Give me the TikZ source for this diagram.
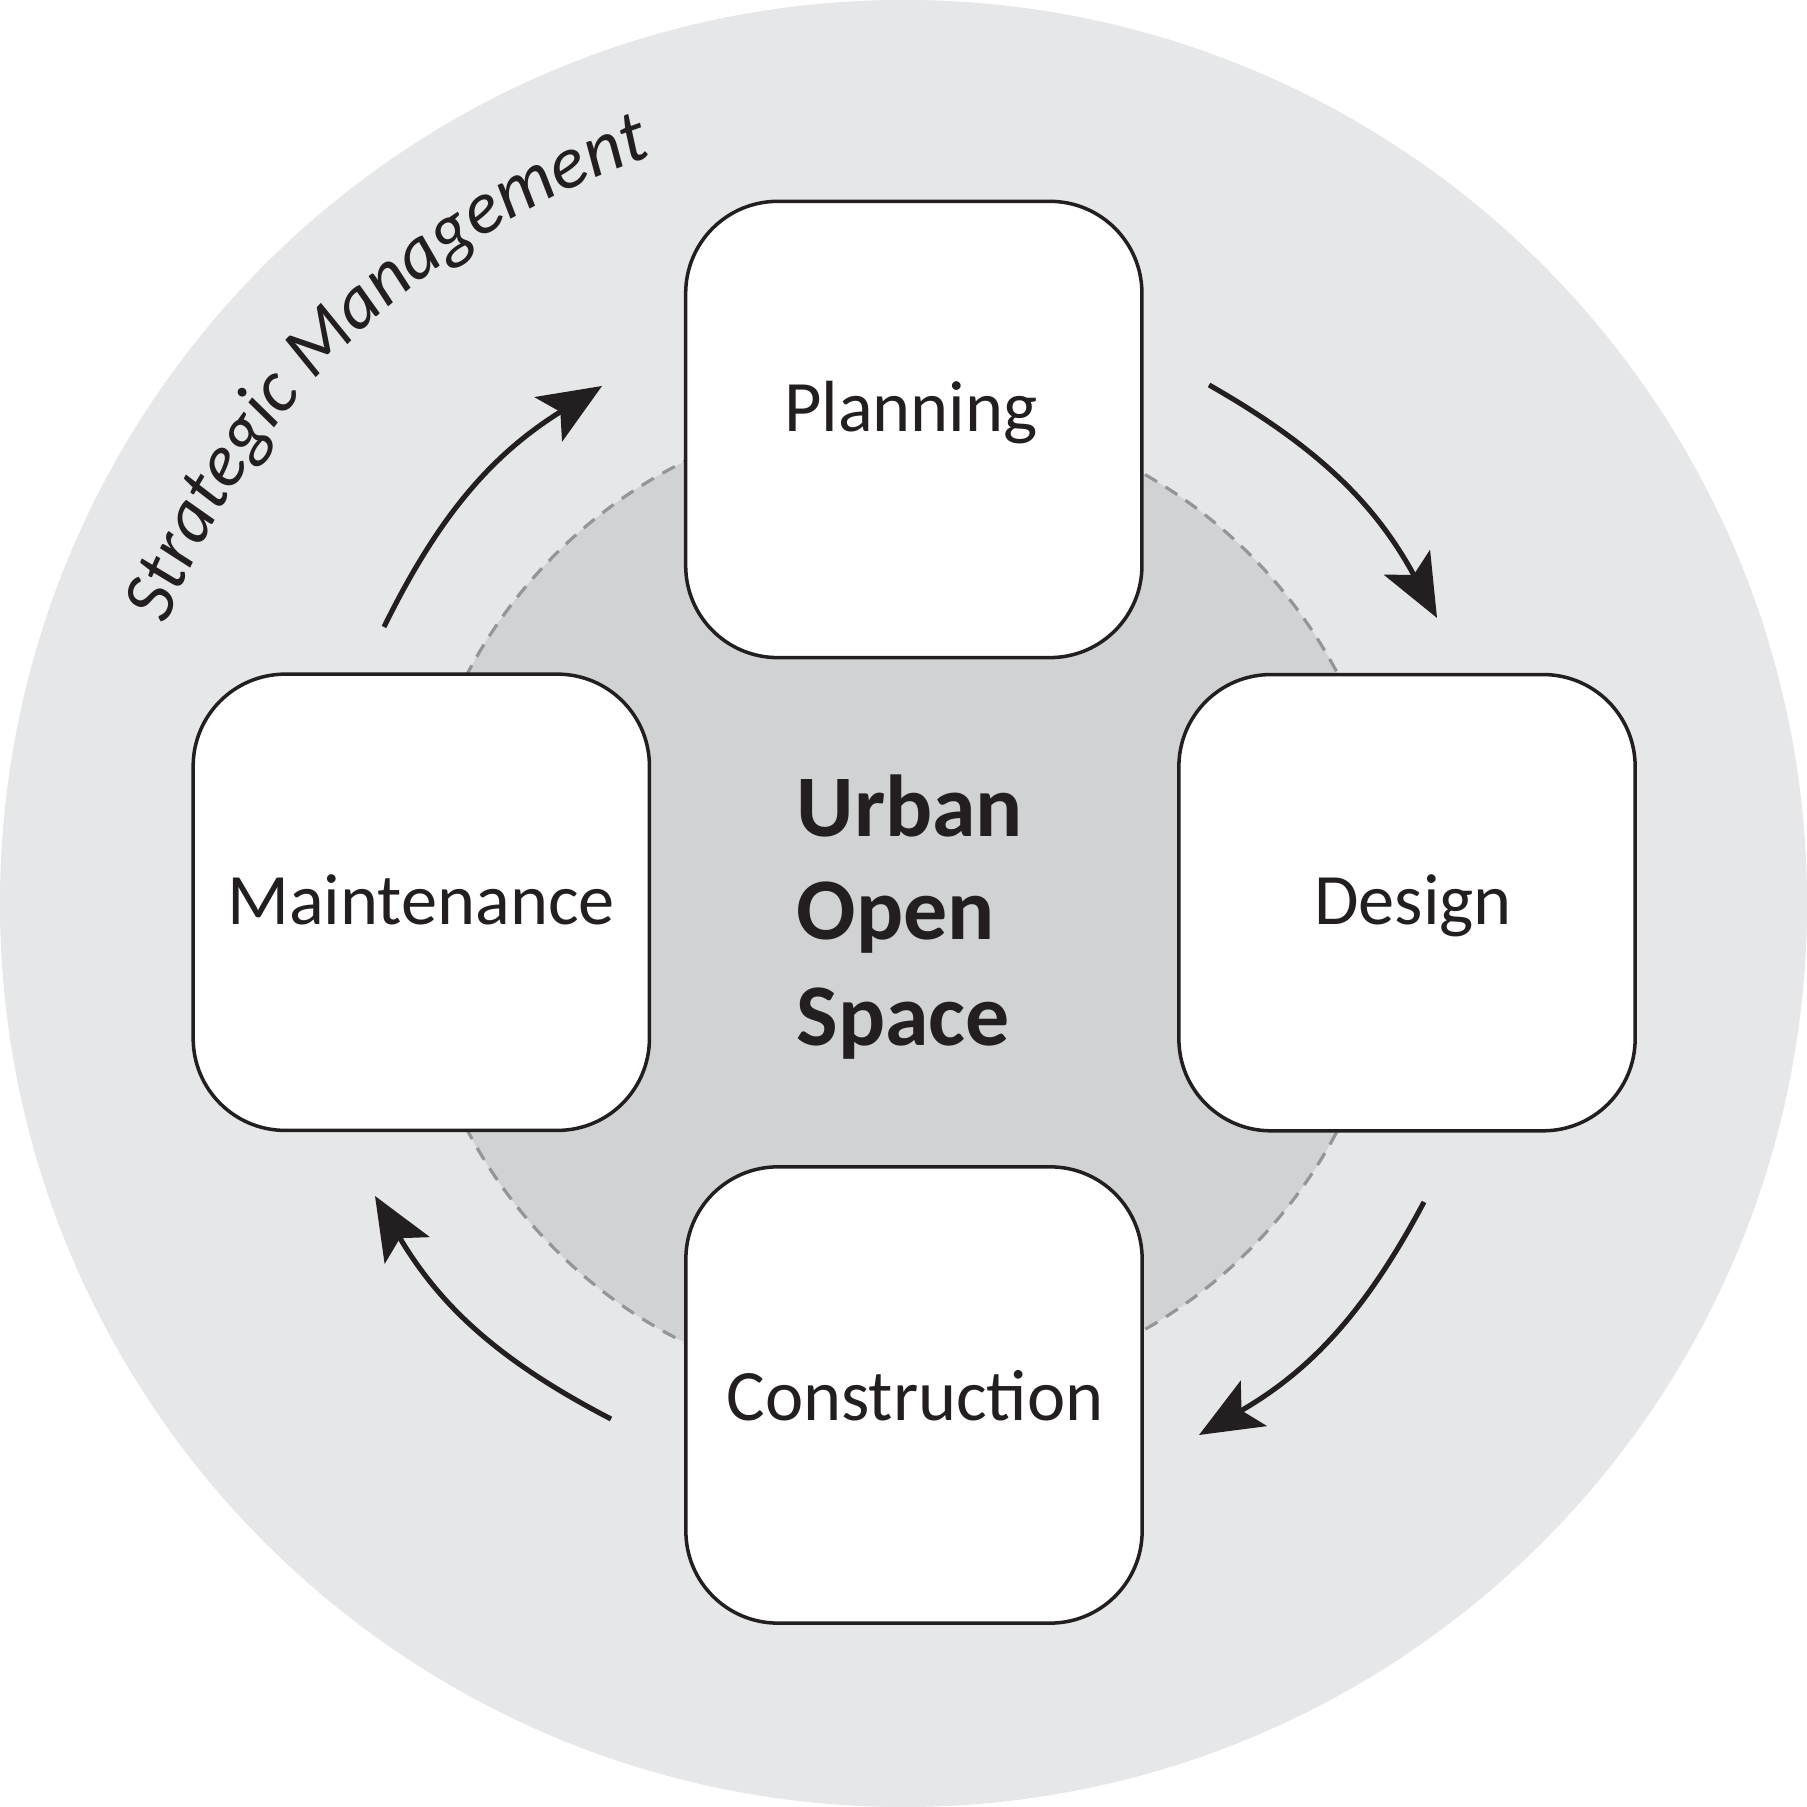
\documentclass[tikz,border=0pt]{standalone}
\usepackage{fontspec}
\setmainfont{Carlito}
\usetikzlibrary{arrows.meta,decorations.text}
\definecolor{outerc}{HTML}{E6E7E8}
\definecolor{innerc}{HTML}{D1D2D4}
\definecolor{dashc}{HTML}{939598}
\definecolor{ink}{HTML}{231F20}
\newcommand\labfont{\fontsize{20.6pt}{24pt}\selectfont}
\newcommand\ctrfont{\bfseries\fontsize{25pt}{30pt}\selectfont}
\newcommand\arcfont{\color{ink}\itshape\fontsize{21.2pt}{26pt}\selectfont}
\begin{document}
\begin{tikzpicture}[x=0.01cm,y=0.01cm,
  stagebox/.style={draw=ink, line width=1pt, fill=white, rounded corners=0.92cm,
    minimum width=4.56cm, minimum height=4.56cm, inner sep=0pt},
  stagelabel/.style={text=ink, font=\labfont, anchor=base, inner sep=0pt},
  centerlabel/.style={text=ink, font=\ctrfont, anchor=base west, inner sep=0pt},
  cyclearrow/.style={draw=ink, line width=1.45pt,
    -{Stealth[length=0.63cm,width=0.52cm,inset=0.14cm]}, bend left=16}]
\useasboundingbox (0,0) rectangle (1807,1807);
% background discs
\fill[outerc] (903.5,903.5) circle[radius=9.03cm];
\filldraw[fill=innerc, draw=dashc, line width=0.9pt, dash pattern=on 0.14cm off 0.1cm]
  (902.5,905) circle[radius=4.91cm];
% arc title
\path[decorate, decoration={text along path, text align=left,
    text={|\arcfont|Strategic Management}}]
  ([shift={(159.3:7.87cm)}]903,904) arc[start angle=159.3, end angle=95, radius=7.87cm];
% boxes
\node[stagebox] (plan) at (913.8,1377.5) {};
\node[stagebox] (maint) at (421.3,904.7) {};
\node[stagebox] (design) at (1407,904.3) {};
\node[stagebox] (constr) at (914,412) {};
% labels
\node[stagelabel] (planT) at (911,1375) {Planning};
\node[stagelabel] (maintT) at (421,882) {Maintenance};
\node[stagelabel] (designT) at (1413,882) {Design};
\node[stagelabel] (constrT) at (915,386) {Construction};
% centre
\node[centerlabel] (uos1) at (796,970) {Urban};
\node[centerlabel] (uos2) at (796,867) {Open};
\node[centerlabel] (uos3) at (796,761) {Space};
% arrows
\coordinate (trS) at (1209,1422);
\coordinate (trE) at (1437,1189);
\coordinate (brS) at (1424,605);
\coordinate (brE) at (1199,372);
\coordinate (blS) at (611,388);
\coordinate (blE) at (375,611);
\coordinate (tlS) at (384,1180);
\coordinate (tlE) at (602,1421);
\draw[cyclearrow] (trS) to (trE);
\draw[cyclearrow] (brS) to (brE);
\draw[cyclearrow] (blS) to (blE);
\draw[cyclearrow] (tlS) to (tlE);
\end{tikzpicture}
\end{document}
